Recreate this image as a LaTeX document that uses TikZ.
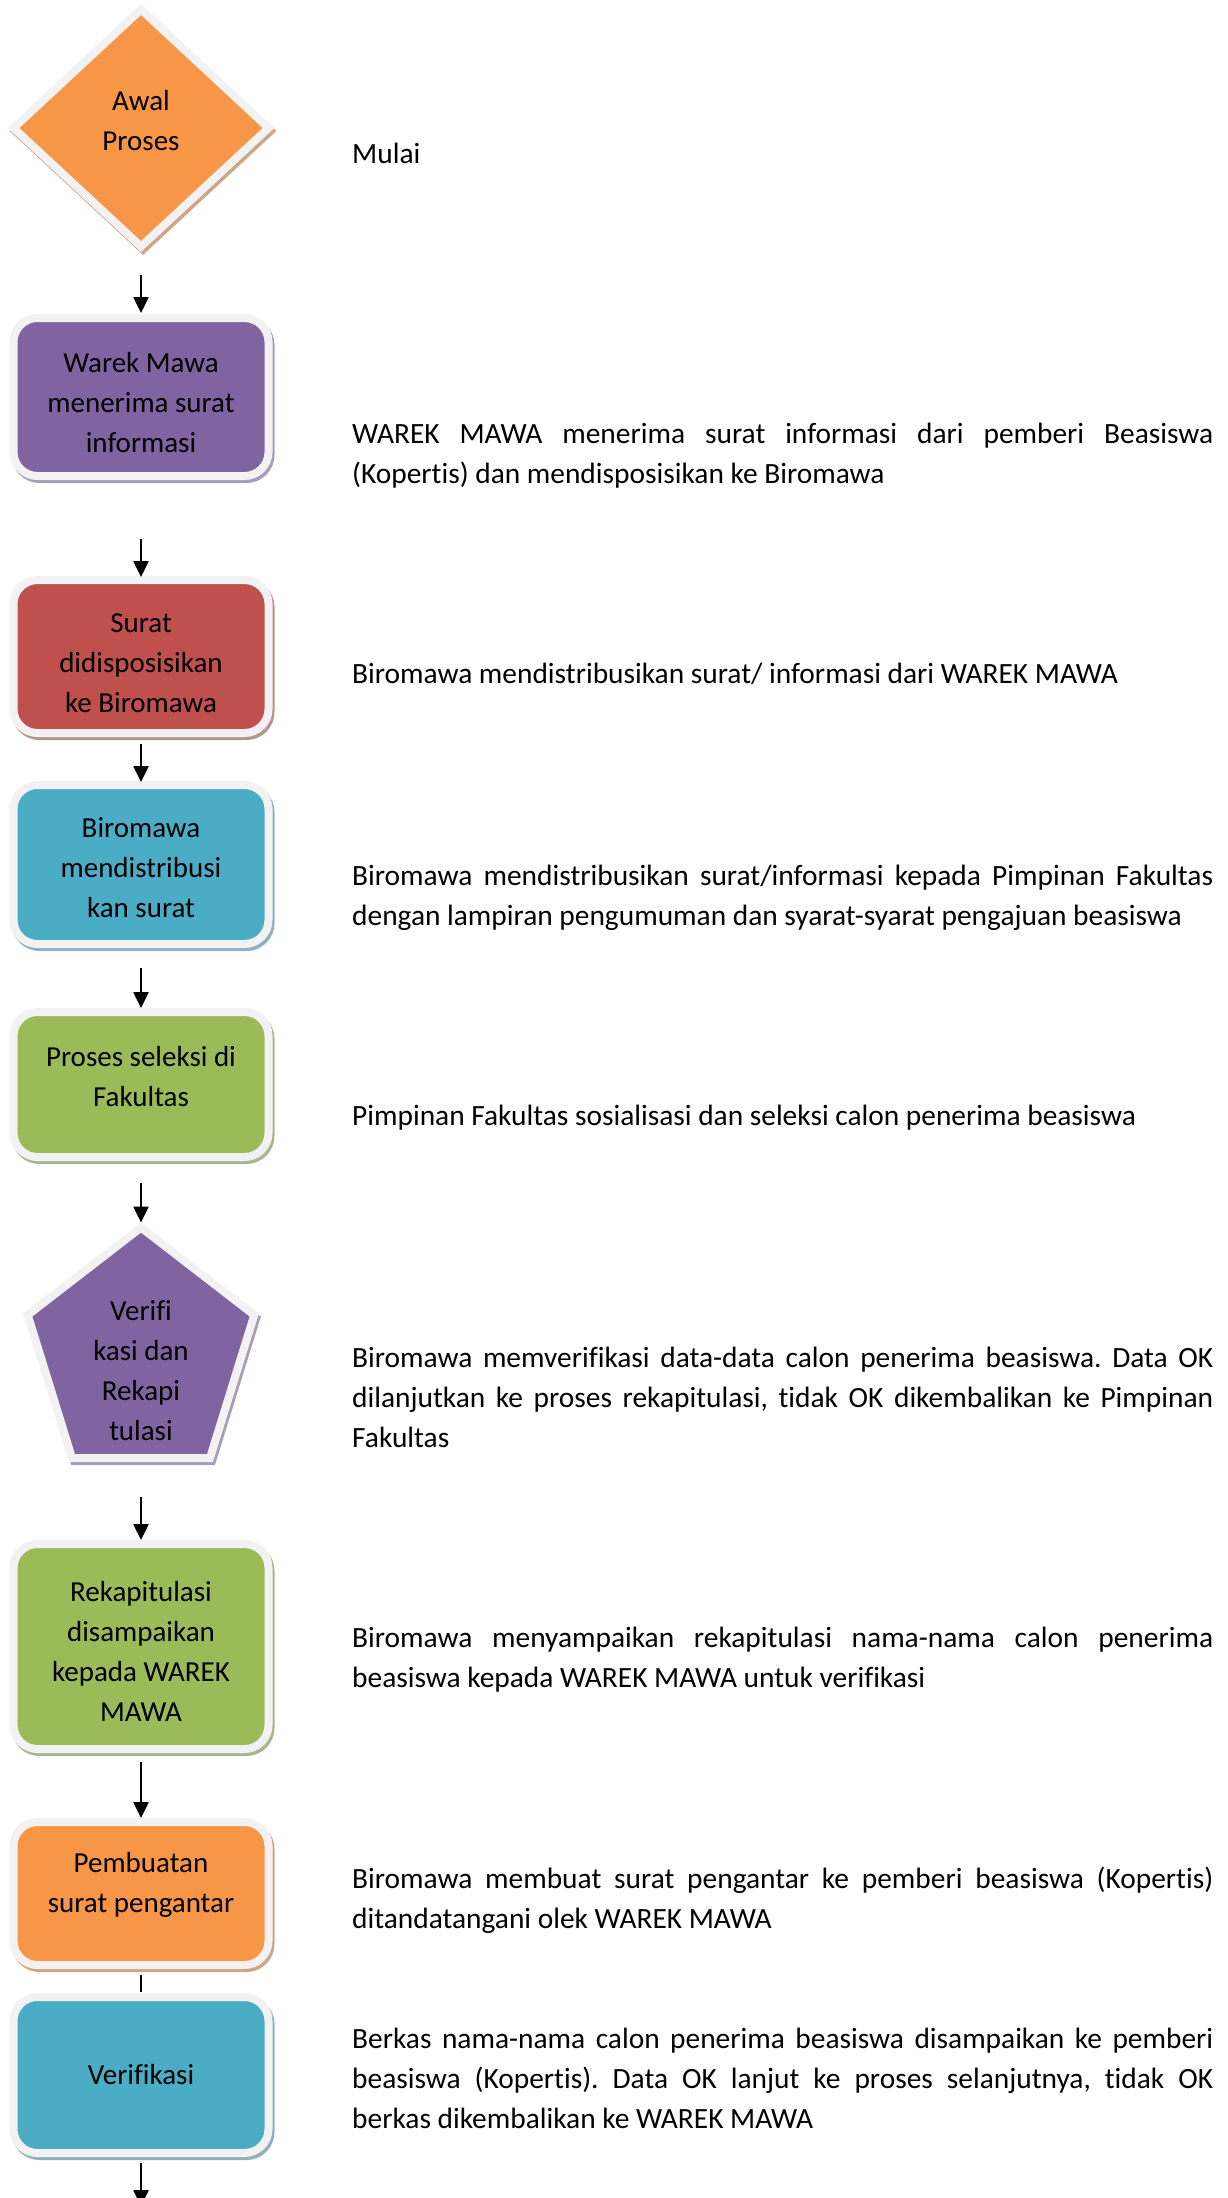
\documentclass[tikz,border=0pt]{standalone}
\usepackage{fontspec}
\setmainfont{Carlito}[Ligatures=NoCommon]
\frenchspacing
\usetikzlibrary{shapes.geometric, arrows.meta}

\definecolor{bord}{HTML}{F2F2F2}
\definecolor{oranye}{HTML}{F79646}
\definecolor{oranyeS}{HTML}{D0A585}
\definecolor{ungu}{HTML}{8064A2}
\definecolor{unguS}{HTML}{A69DB6}
\definecolor{merah}{HTML}{C0504D}
\definecolor{merahS}{HTML}{B8948F}
\definecolor{biru}{HTML}{4BACC6}
\definecolor{biruS}{HTML}{8FB0BC}
\definecolor{hijau}{HTML}{9BBB59}
\definecolor{hijauS}{HTML}{A7B68F}

\begin{document}
\begin{tikzpicture}[x=1pt, y=-1pt,
                    font=\fontsize{29}{40}\selectfont,
                    kotak/.style={rectangle, rounded corners=24pt, draw=bord, line width=8pt, fill=#1,
                                  minimum width=255pt, inner sep=0pt, outer sep=0pt, align=center},
                    bayang/.style={preaction={draw=#1, line width=8pt, transform canvas={shift={(2pt,-3pt)}}}},
                    ket/.style={anchor=base west, text width=861pt, align=justify, inner sep=0pt,
                                font=\fontsize{29.4}{40}\selectfont},
                    panah/.style={line width=2.5pt, -{Triangle[width=15pt,length=16pt]}}]
                \useasboundingbox (0,0) rectangle (1228,2198);

                \node (0) [diamond, draw=bord, line width=8pt, fill=oranye, bayang=oranyeS,
                           minimum width=255pt, minimum height=237pt, inner sep=0pt, outer sep=0pt,
                           align=center, text depth=15pt] at (141,128) {Awal\\Proses};
                \node (1) [kotak=ungu, bayang=unguS, minimum height=158pt, text height=111.5pt] at (141,397) {Warek Mawa\\menerima surat\\informasi};
                \node (2) [kotak=merah, bayang=merahS, minimum height=153pt, text height=113pt] at (141,656.5) {Surat\\didisposisikan\\ke Biromawa};
                \node (3) [kotak=biru, bayang=biruS, minimum height=159pt, text height=106.5pt] at (141,864.5) {Biromawa\\mendistribusi\\kan surat};
                \node (4) [kotak=hijau, bayang=hijauS, minimum height=145pt, text depth=16pt] at (141,1084.5) {Proses seleksi di\\Fakultas};

                \draw [bayang=unguS, draw=bord, fill=ungu, line width=8pt]
                    (141,1227.5) -- (254.25,1315) -- (210,1458) -- (72,1458) -- (27.75,1315) -- cycle;
                \node (5) [align=center] at (141,1371) {Verifi\\kasi dan\\Rekapi\\tulasi};
                \coordinate (5a) at (141,1227.5);
                \coordinate (5b) at (141,1458);

                \node (6) [kotak=hijau, bayang=hijauS, minimum height=205pt, text height=150pt] at (141,1646.5) {Rekapitulasi\\disampaikan\\kepada WAREK\\MAWA};
                \node (7) [kotak=oranye, bayang=oranyeS, minimum height=143pt, text depth=22pt] at (141,1893.5) {Pembuatan\\surat pengantar};
                \node (8) [kotak=biru, bayang=biruS, minimum height=156pt] at (141,2075) {Verifikasi};
                \coordinate (9) at (141,2206);

                \draw [panah, shorten <=28pt, shorten >=5pt] (0) -- (1);
                \draw [panah, shorten <=63pt, shorten >=3pt] (1) -- (2);
                \draw [panah, shorten <=11pt, shorten >=3pt] (2) -- (3);
                \draw [panah, shorten <=24pt, shorten >=4pt] (3) -- (4);
                \draw [panah, shorten <=26pt, shorten >=5pt] (4) -- (5a);
                \draw [panah, shorten <=39pt, shorten >=4pt] (5b) -- (6);
                \draw [panah, shorten <=13pt, shorten >=4pt] (6) -- (7);
                \draw [line width=2.5pt, shorten <=10pt, shorten >=5pt] (7) -- (8);
                \draw [panah, shorten <=10pt] (8) -- (9);

                \node (k0) [ket] at (352,163) {Mulai};
                \node (k1) [ket] at (352,443) {WAREK MAWA menerima surat informasi dari pemberi Beasiswa\linebreak
                    (Kopertis) dan mendisposisikan ke Biromawa};
                \node (k2) [ket] at (352,683) {Biromawa mendistribusikan surat/ informasi dari WAREK MAWA};
                \node (k3) [ket] at (352,885) {Biromawa mendistribusikan surat/informasi kepada Pimpinan Fakultas\linebreak
                    dengan lampiran pengumuman dan syarat-syarat pengajuan beasiswa};
                \node (k4) [ket] at (352,1125) {Pimpinan Fakultas sosialisasi dan seleksi calon penerima beasiswa};
                \node (k5) [ket] at (352,1367) {Biromawa memverifikasi data-data calon penerima beasiswa. Data OK\linebreak
                    dilanjutkan ke proses rekapitulasi, tidak OK dikembalikan ke Pimpinan\linebreak
                    Fakultas};
                \node (k6) [ket] at (352,1647) {Biromawa menyampaikan rekapitulasi nama-nama calon penerima\linebreak
                    beasiswa kepada WAREK MAWA untuk verifikasi};
                \node (k7) [ket] at (352,1888) {Biromawa membuat surat pengantar ke pemberi beasiswa (Kopertis)\linebreak
                    ditandatangani olek WAREK MAWA};
                \node (k8) [ket] at (352,2048) {Berkas nama-nama calon penerima beasiswa disampaikan ke pemberi\linebreak
                    beasiswa (Kopertis). Data OK lanjut ke proses selanjutnya, tidak OK\linebreak
                    berkas dikembalikan ke WAREK MAWA};
            \end{tikzpicture}
\end{document}
